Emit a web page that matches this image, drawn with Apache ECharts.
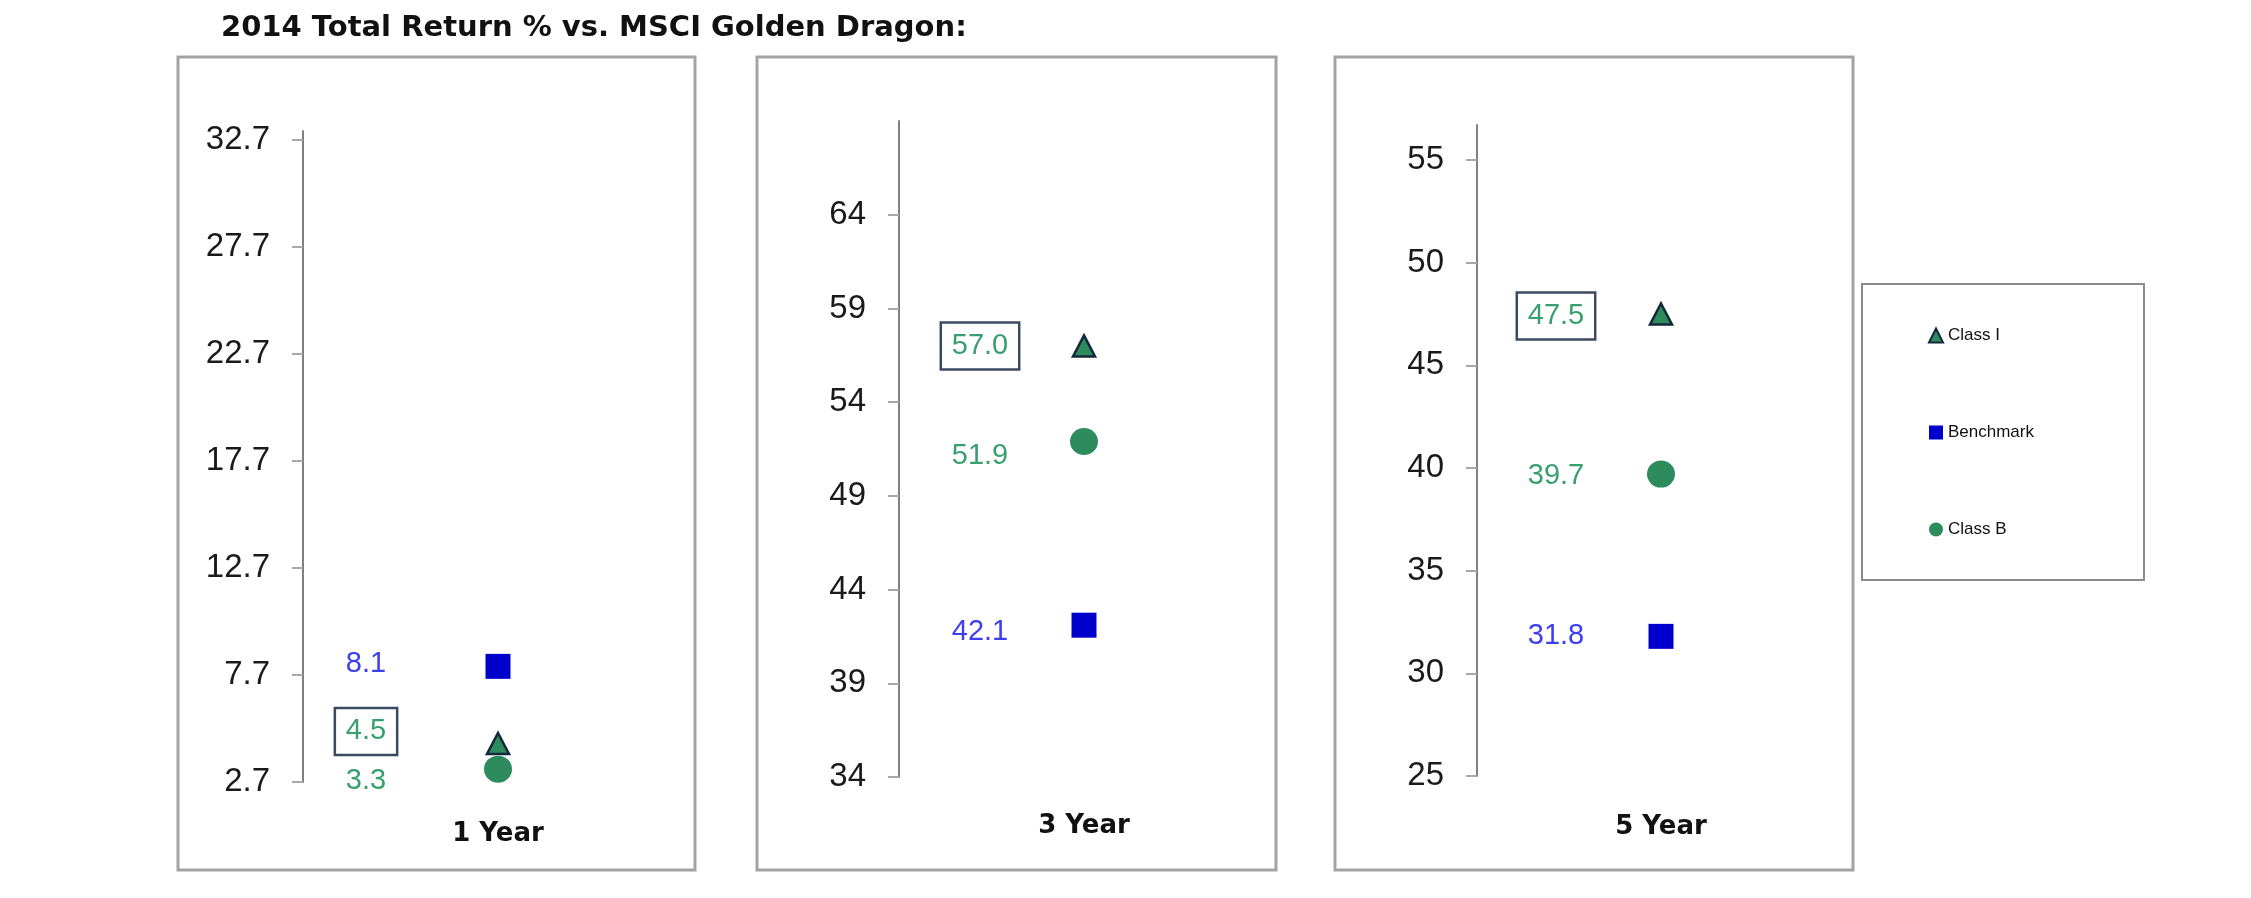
<!DOCTYPE html>
<html>
<head>
<meta charset="utf-8">
<script src="https://cdn.jsdelivr.net/npm/echarts@6/dist/echarts.min.js"></script>
<style>
html,body{margin:0;padding:0;background:#fff;}
#chart{width:2251px;height:898px;}
</style>
</head>
<body>
<div id="chart"></div>
<script>
// ---- data ----
const categories = ['1 Year', '3 Year', '5 Year'];
const seriesNames = ['Class I', 'Benchmark', 'Class B'];
const classI = [4.5, 57.0, 47.5];
const benchmark = [8.1, 42.1, 31.8];
const classB = [3.3, 51.9, 39.7];
const axisMin = [2.7, 34, 25];
const axisMax = [33.1, 69, 56.7];
const tickValues1 = [2.7, 7.7, 12.7, 17.7, 22.7, 27.7, 32.7];
const tickValues3 = [34, 39, 44, 49, 54, 59, 64];
const tickValues5 = [25, 30, 35, 40, 45, 50, 55];
const tickValues = [tickValues1, tickValues3, tickValues5];
const titleText = '2014 Total Return % vs. MSCI Golden Dragon:';

// ---- layout / style (not data) ----
const grids = [
  {left: 303, top: 131, width: 390, height: 651},
  {left: 899, top: 121, width: 370, height: 656},
  {left: 1477, top: 125, width: 368, height: 651}
];
const boxes = [
  {x: 178, y: 57, width: 517, height: 813},
  {x: 757, y: 57, width: 519, height: 813},
  {x: 1335, y: 57, width: 518, height: 813}
];
const xLabelMargin = [39, 36, 38];
const labelDX = [-132, -104, -105];
const labelDY = {
  'Class I': [-12, 0, 2],
  'Benchmark': [-2, 7, 0],
  'Class B': [12, 14, 2]
};
const mainFont = "'Liberation Sans', Arial, sans-serif";
const boldFont = "'DejaVu Sans', 'Liberation Sans', sans-serif";
const green = '#2e8b5e';
const greenText = '#3a9f70';
const blue = '#0000cc';
const blueText = '#3d3df2';

const seriesStyle = {
  'Class I': {symbol: 'triangle', symbolSize: [22, 21], item: {color: green, borderColor: '#14283c', borderWidth: 2.5, opacity: 1}, text: greenText, boxed: true},
  'Benchmark': {symbol: 'rect', symbolSize: [25, 25], item: {color: blue, opacity: 1}, text: blueText, boxed: false},
  'Class B': {symbol: 'circle', symbolSize: [28, 27], item: {color: green, opacity: 1}, text: greenText, boxed: false}
};
const valuesByName = {'Class I': classI, 'Benchmark': benchmark, 'Class B': classB};

const chart = echarts.init(document.getElementById('chart'), null, {renderer: 'canvas'});

const xAxes = [], yAxes = [], series = [];
categories.forEach((cat, i) => {
  xAxes.push({
    gridIndex: i, type: 'category', data: [cat],
    axisLine: {show: false}, axisTick: {show: false}, splitLine: {show: false},
    axisLabel: {margin: xLabelMargin[i], fontSize: 26, fontWeight: 'bold', color: '#111', fontFamily: boldFont}
  });
  yAxes.push({
    gridIndex: i, type: 'value', min: axisMin[i], max: axisMax[i],
    splitLine: {show: false},
    axisLine: {show: true, lineStyle: {color: '#808080', width: 2}},
    axisTick: {show: true, customValues: tickValues[i], length: 11, lineStyle: {color: '#a8a8a8', width: 2}},
    axisLabel: {customValues: tickValues[i], margin: 33, fontSize: 33, color: '#1a1a1a', fontFamily: mainFont}
  });
  seriesNames.forEach(name => {
    const st = seriesStyle[name];
    const label = {
      show: true, position: 'inside',
      offset: [labelDX[i], labelDY[name][i]],
      color: st.text, fontSize: 29, fontFamily: mainFont,
      formatter: p => Number(p.value[1]).toFixed(1)
    };
    if (st.boxed) {
      Object.assign(label, {borderColor: '#3b4a63', borderWidth: 2.5, padding: [10, 11, 8, 11]});
    }
    series.push({
      type: 'scatter', name: name, xAxisIndex: i, yAxisIndex: i,
      symbol: st.symbol, symbolSize: st.symbolSize,
      itemStyle: st.item,
      label: label,
      emphasis: {disabled: true},
      data: [[cat, valuesByName[name][i]]]
    });
  });
});

chart.setOption({
  animation: false,
  backgroundColor: '#fff',
  title: {
    text: titleText, left: 216, top: 9,
    textStyle: {fontSize: 29, fontWeight: 'bold', color: '#111', fontFamily: boldFont}
  },
  legend: {
    data: seriesNames.map(n => ({name: n, icon: n === 'Class I' ? 'triangle' : (n === 'Benchmark' ? 'rect' : 'circle'),
      itemStyle: {opacity: 1}})),
    orient: 'vertical', left: 1862, top: 284,
    padding: [43, 110, 42, 66], itemGap: 80, itemWidth: 14, itemHeight: 14,
    borderColor: '#8a8a8a', borderWidth: 2,
    textStyle: {fontSize: 17, color: '#111', fontFamily: mainFont},
    selectedMode: false
  },
  grid: grids,
  xAxis: xAxes,
  yAxis: yAxes,
  series: series,
  graphic: boxes.map(b => ({
    type: 'rect', z: -10, silent: true,
    shape: {x: b.x, y: b.y, width: b.width, height: b.height},
    style: {fill: 'none', stroke: '#a3a3a3', lineWidth: 3}
  }))
});
</script>
</body>
</html>
